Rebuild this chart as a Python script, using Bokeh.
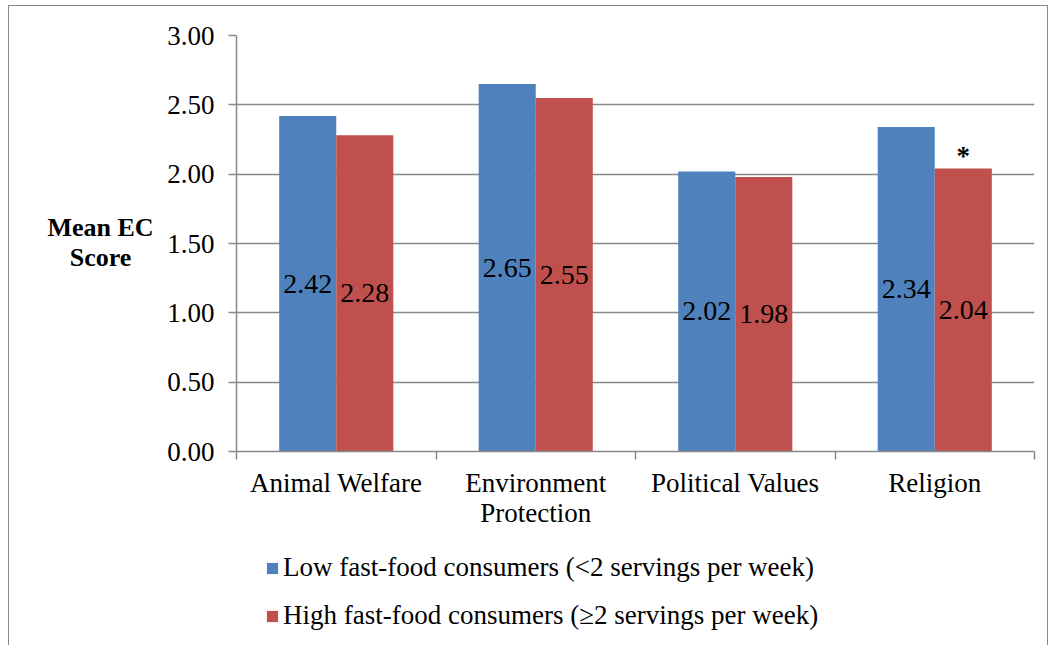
from bokeh.plotting import figure
from bokeh.layouts import column, row
from bokeh.models import (FixedTicker, Label, Legend, LegendItem, ColumnDataSource,
                          Range1d, PrintfTickFormatter)
from bokeh.embed import file_html
from bokeh.resources import INLINE
from bokeh.core.properties import value

# ---- data ----
categories = ["Animal Welfare", "Environment\nProtection", "Political Values", "Religion"]
low_scores = [2.42, 2.65, 2.02, 2.34]
high_scores = [2.28, 2.55, 1.98, 2.04]
significance = ["", "", "", "*"]
y_ticks = [0.0, 0.5, 1.0, 1.5, 2.0, 2.5, 3.0]
series_names = ["Low fast-food consumers (<2 servings per week)",
                "High fast-food consumers (\u22652 servings per week)"]
y_title = "Mean EC\nScore"

# ---- style ----
FONT = "Liberation Serif"
BLUE = "#4F81BD"
RED = "#C0504D"
GRAY = "#898989"
BAR_W = 0.286

TOTAL_W, TOTAL_H = 1038, 639
TITLE_W, TOP_H = 150, 530


def bare_fig(w, h):
    f = figure(width=w, height=h, x_range=Range1d(0, w), y_range=Range1d(h, 0),
               output_backend="svg", toolbar_location=None,
               x_axis_location=None, y_axis_location=None, min_border=0)
    f.outline_line_color = None
    f.background_fill_color = "white"
    f.border_fill_color = "white"
    f.grid.visible = False
    return f


n = len(categories)
centers = [i + 0.5 for i in range(n)]
x_low = [c - BAR_W / 2 for c in centers]
x_high = [c + BAR_W / 2 for c in centers]

src_low = ColumnDataSource(dict(x=x_low, top=low_scores, mid=[v / 2 for v in low_scores],
                                lab=["%.2f" % v for v in low_scores]))
src_high = ColumnDataSource(dict(x=x_high, top=high_scores, mid=[v / 2 for v in high_scores],
                                 lab=["%.2f" % v for v in high_scores], sig=significance))

# ---- main chart ----
p = figure(width=TOTAL_W - TITLE_W, height=TOP_H, x_range=Range1d(0, n), y_range=Range1d(0, 3),
           output_backend="svg", toolbar_location=None,
           min_border_left=77, min_border_right=13, min_border_top=29, min_border_bottom=85)
p.outline_line_color = None
p.background_fill_color = "white"
p.border_fill_color = "white"

p.vbar(x="x", top="top", width=BAR_W, bottom=0, source=src_low,
       fill_color=BLUE, line_color=None)
p.vbar(x="x", top="top", width=BAR_W, bottom=0, source=src_high,
       fill_color=RED, line_color=None)

for src in (src_low, src_high):
    p.text(x="x", y="mid", text="lab", source=src, text_align="center",
           text_baseline="middle", text_font=value(FONT), text_font_size="28px",
           text_color="black")

p.text(x="x", y="top", text="sig", source=src_high, text_align="center",
       text_baseline="bottom", text_font=value(FONT), text_font_size="27px",
       text_font_style="bold", text_color="black", y_offset=2)

p.xaxis.ticker = FixedTicker(ticks=centers, minor_ticks=list(range(n + 1)))
p.xaxis.major_label_overrides = {c: lab for c, lab in zip(centers, categories)}
p.xaxis.major_tick_out = 0
p.xaxis.major_tick_in = 0
p.xaxis.minor_tick_out = 8
p.xaxis.minor_tick_in = 0
p.xaxis.minor_tick_line_color = GRAY
p.xaxis.minor_tick_line_width = 1.5
p.xaxis.axis_line_color = GRAY
p.xaxis.axis_line_width = 1.5
p.xaxis.major_label_text_font = FONT
p.xaxis.major_label_text_font_size = "27px"
p.xaxis.major_label_text_color = "black"
p.xaxis.major_label_standoff = 8
p.xaxis.major_label_text_line_height = 1.0

p.yaxis.ticker = FixedTicker(ticks=y_ticks)
p.yaxis.formatter = PrintfTickFormatter(format="%.2f")
p.yaxis.major_tick_out = 8
p.yaxis.major_tick_in = 0
p.yaxis.minor_tick_line_color = None
p.yaxis.major_tick_line_color = GRAY
p.yaxis.major_tick_line_width = 1.5
p.yaxis.axis_line_color = GRAY
p.yaxis.axis_line_width = 1.5
p.yaxis.major_label_text_font = FONT
p.yaxis.major_label_text_font_size = "27px"
p.yaxis.major_label_text_color = "black"
p.yaxis.major_label_standoff = 14

p.xgrid.visible = False
p.ygrid.ticker = FixedTicker(ticks=y_ticks)
p.ygrid.grid_line_color = GRAY
p.ygrid.grid_line_width = 1.5

# ---- y title panel ----
pt = bare_fig(TITLE_W, TOP_H)
pt.add_layout(Label(x=91, y=264, text=y_title, text_align="center",
                    text_baseline="middle", text_font=FONT, text_font_size="26px",
                    text_font_style="bold", text_color="black", text_line_height=1.04))

# ---- legend panel (legend proxies carry the series but have zero width) ----
pl = bare_fig(TOTAL_W, TOTAL_H - TOP_H)
lr_low = pl.vbar(x="x", top="top", width=0, bottom=0, source=src_low,
                 fill_color=BLUE, line_color=None)
lr_high = pl.vbar(x="x", top="top", width=0, bottom=0, source=src_high,
                  fill_color=RED, line_color=None)
legend = Legend(items=[LegendItem(label=series_names[0], renderers=[lr_low]),
                       LegendItem(label=series_names[1], renderers=[lr_high])],
                location=(256, 14), orientation="vertical", padding=0, margin=0,
                border_line_color=None, background_fill_alpha=0,
                glyph_width=14, glyph_height=14, label_standoff=4,
                label_height=30, spacing=17,
                label_text_font=FONT, label_text_font_size="27px",
                label_text_color="black")
pl.add_layout(legend)

layout = column(row(pt, p), pl)
layout.styles = {"margin-left": "8px", "margin-top": "5px",
                 "border": "1px solid #8a8a8a", "border-bottom": "none"}

open("out.html", "w").write(file_html(layout, INLINE))
